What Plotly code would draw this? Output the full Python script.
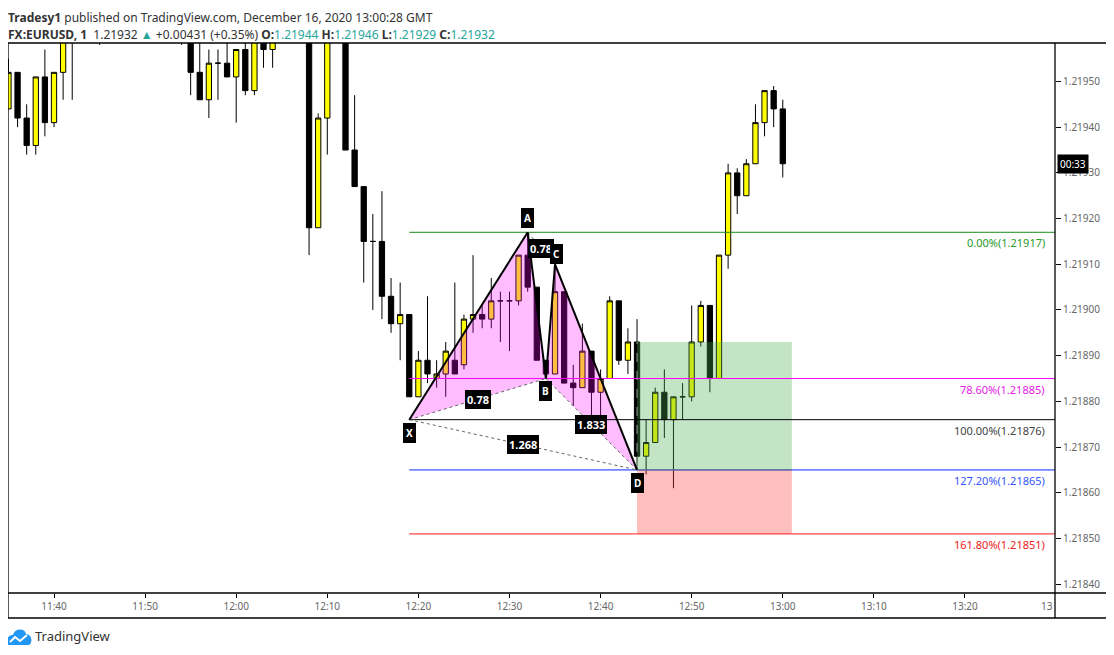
import datetime as dt
import plotly.graph_objects as go

DAY = "2020-12-16 "

# one-minute EURUSD candles (only those visible in the frame)
TIMES = ["11:35", "11:36", "11:37", "11:38", "11:39", "11:40", "11:41", "11:42", "11:45",
         "11:54", "11:55", "11:56", "11:57", "11:58", "11:59", "12:00", "12:01", "12:02",
         "12:03", "12:04", "12:08", "12:09", "12:10", "12:12", "12:13", "12:14", "12:15",
         "12:16", "12:17", "12:18", "12:19", "12:20", "12:21", "12:22", "12:23", "12:24",
         "12:25", "12:26", "12:27", "12:28", "12:29", "12:30", "12:31", "12:32", "12:33",
         "12:34", "12:35", "12:36", "12:37", "12:38", "12:39", "12:40", "12:41", "12:42",
         "12:43", "12:44", "12:45", "12:46", "12:47", "12:48", "12:49", "12:50", "12:51",
         "12:52", "12:53", "12:54", "12:55", "12:56", "12:57", "12:58", "12:59", "13:00"]
OPEN = [1.21944, 1.21952, 1.21942, 1.21936, 1.21951, 1.21941, 1.21952, 1.21965, 1.21966,
        1.21966, 1.21963, 1.21952, 1.21946, 1.21954, 1.21954, 1.21951, 1.21957, 1.21948,
        1.21961, 1.21957, 1.21962, 1.21918, 1.21942, 1.21961, 1.21935, 1.21927, 1.21915,
        1.21915, 1.21903, 1.21897, 1.21899, 1.21881, 1.21889, 1.21885, 1.21886, 1.21889,
        1.21888, 1.21898, 1.21899, 1.21898, 1.21902, 1.21902, 1.21902, 1.21912, 1.21905,
        1.21889, 1.21886, 1.21904, 1.21884, 1.21883, 1.21891, 1.21882, 1.21885, 1.21902,
        1.21889, 1.21893, 1.21868, 1.21871, 1.21882, 1.21876, 1.21881, 1.21881, 1.21893,
        1.21901, 1.21885, 1.21912, 1.21930, 1.21925, 1.21932, 1.21941, 1.21948, 1.21944]
HIGH = [1.21955, 1.21952, 1.21945, 1.21951, 1.21957, 1.21952, 1.21964, 1.21968, 1.21968,
        1.21968, 1.21965, 1.21960, 1.21957, 1.21957, 1.21960, 1.21957, 1.21960, 1.21963,
        1.21962, 1.21963, 1.21963, 1.21943, 1.21962, 1.21962, 1.21947, 1.21927, 1.21921,
        1.21926, 1.21907, 1.21906, 1.21899, 1.21891, 1.21903, 1.21889, 1.21893, 1.21906,
        1.21899, 1.21912, 1.21901, 1.21907, 1.21904, 1.21904, 1.21912, 1.21917, 1.21905,
        1.21889, 1.21910, 1.21904, 1.21888, 1.21897, 1.21891, 1.21887, 1.21903, 1.21902,
        1.21896, 1.21898, 1.21876, 1.21883, 1.21887, 1.21881, 1.21884, 1.21901, 1.21902,
        1.21901, 1.21912, 1.21932, 1.21931, 1.21933, 1.21945, 1.21948, 1.21949, 1.21946]
LOW = [1.21944, 1.21940, 1.21934, 1.21934, 1.21938, 1.21940, 1.21946, 1.21946, 1.21958,
       1.21958, 1.21947, 1.21946, 1.21942, 1.21946, 1.21951, 1.21941, 1.21947, 1.21947,
       1.21953, 1.21953, 1.21912, 1.21918, 1.21934, 1.21935, 1.21927, 1.21906, 1.21900,
       1.21898, 1.21895, 1.21889, 1.21881, 1.21881, 1.21884, 1.21883, 1.21881, 1.21886,
       1.21887, 1.21895, 1.21896, 1.21896, 1.21893, 1.21891, 1.21901, 1.21904, 1.21889,
       1.21885, 1.21886, 1.21884, 1.21879, 1.21883, 1.21874, 1.21874, 1.21885, 1.21888,
       1.21886, 1.21865, 1.21864, 1.21871, 1.21872, 1.21861, 1.21876, 1.21880, 1.21892,
       1.21882, 1.21885, 1.21909, 1.21921, 1.21925, 1.21932, 1.21938, 1.21940, 1.21929]
CLOSE = [1.21952, 1.21942, 1.21936, 1.21951, 1.21941, 1.21952, 1.21962, 1.21963, 1.21963,
         1.21964, 1.21952, 1.21946, 1.21954, 1.21954, 1.21951, 1.21957, 1.21948, 1.21962,
         1.21957, 1.21962, 1.21918, 1.21942, 1.21961, 1.21935, 1.21927, 1.21915, 1.21915,
         1.21903, 1.21897, 1.21899, 1.21881, 1.21889, 1.21886, 1.21886, 1.21891, 1.21886,
         1.21898, 1.21899, 1.21898, 1.21902, 1.21902, 1.21902, 1.21912, 1.21905, 1.21889,
         1.21886, 1.21904, 1.21884, 1.21883, 1.21891, 1.21882, 1.21885, 1.21902, 1.21889,
         1.21893, 1.21868, 1.21871, 1.21882, 1.21876, 1.21881, 1.21881, 1.21893, 1.21901,
         1.21885, 1.21912, 1.21930, 1.21925, 1.21932, 1.21941, 1.21948, 1.21944, 1.21932]

# XABCD pattern points
PAT_NAMES = ["X", "A", "B", "C", "D"]
PAT_TIMES = ["12:19", "12:32", "12:34", "12:35", "12:44"]
PAT_PRICES = [1.21876, 1.21917, 1.21885, 1.21910, 1.21865]
RATIOS = [("X", "B", "0.78"), ("A", "C", "0.78"), ("B", "D", "1.833"), ("X", "D", "1.268")]

# fibonacci levels
FIB_LEVELS = ["0.00%", "78.60%", "100.00%", "127.20%", "161.80%"]
FIB_PRICES = [1.21917, 1.21885, 1.21876, 1.21865, 1.21851]
FIB_LINE = ["#1a8a1a", "#ff00ff", "#000000", "#0a2cff", "#ff1a1a"]
FIB_TEXT = ["#2a9a2a", "#e619e6", "#444444", "#3355ff", "#f02020"]

# long position box
POS_START, POS_END = "12:44", "13:01"
POS_TARGET, POS_ENTRY, POS_STOP = 1.21893, 1.21865, 1.21851

X_RANGE = [DAY + "11:34:57", DAY + "13:29:53"]
Y_RANGE = [1.2183807, 1.2195842]

FONT = "Noto Sans"
# page body has an 8px margin, so the figure sits 8px in from the window corner
PAGE = 8
W, H = 1114 - PAGE, 655 - PAGE
L, T, PW, PH = 0, 35, 1047, 550


def px(x):
    return (x - PAGE - L) / PW


def py(y):
    return (T + PH - (y - PAGE)) / PH


def t(s):
    return DAY + s


def tp(s):
    return (DAY + s).replace(" ", "_")


fig = go.Figure()
fig.add_trace(go.Candlestick(
    x=[t(s) for s in TIMES], open=OPEN, high=HIGH, low=LOW, close=CLOSE,
    increasing=dict(fillcolor="#ffff00", line=dict(color="#000000", width=1)),
    decreasing=dict(fillcolor="#000000", line=dict(color="#000000", width=1)),
    whiskerwidth=0, hoverinfo="skip", showlegend=False,
))

pt = {n: (tm, p) for n, tm, p in zip(PAT_NAMES, PAT_TIMES, PAT_PRICES)}
shapes = []

# position boxes
shapes.append(dict(type="rect", xref="x", yref="y", x0=t(POS_START), x1=t(POS_END),
                   y0=POS_ENTRY, y1=POS_TARGET, fillcolor="rgba(76,175,80,0.33)",
                   line=dict(width=0), layer="above"))
shapes.append(dict(type="rect", xref="x", yref="y", x0=t(POS_START), x1=t(POS_END),
                   y0=POS_STOP, y1=POS_ENTRY, fillcolor="rgba(255,60,60,0.33)",
                   line=dict(width=0), layer="above"))

# pattern fills
for a, b, c in [("X", "A", "B"), ("B", "C", "D")]:
    path = "M{},{} L{},{} L{},{} Z".format(tp(pt[a][0]), pt[a][1], tp(pt[b][0]), pt[b][1],
                                          tp(pt[c][0]), pt[c][1])
    shapes.append(dict(type="path", xref="x", yref="y", path=path,
                       fillcolor="rgba(255,0,255,0.26)", line=dict(width=0), layer="above"))

# fib lines
for p, c in zip(FIB_PRICES, FIB_LINE):
    shapes.append(dict(type="line", xref="x", yref="y", x0=t(PAT_TIMES[0]), x1=X_RANGE[1],
                       y0=p, y1=p, line=dict(color=c, width=1), layer="above"))
shapes.append(dict(type="line", xref="x", yref="y", x0=t(POS_START), x1=t(POS_END),
                   y0=POS_ENTRY, y1=POS_ENTRY, line=dict(color="#777777", width=1), layer="above"))
shapes.append(dict(type="line", xref="x", yref="y", x0=t(POS_START), x1=t(POS_START),
                   y0=POS_ENTRY, y1=POS_TARGET,
                   line=dict(color="#9a9a9a", width=1, dash="dash"), layer="above"))

# dotted ratio lines
for a, b, _ in RATIOS:
    shapes.append(dict(type="line", xref="x", yref="y", x0=t(pt[a][0]), y0=pt[a][1],
                       x1=t(pt[b][0]), y1=pt[b][1],
                       line=dict(color="#666666", width=1, dash="dot"), layer="above"))

# pattern legs
for a, b in zip(PAT_NAMES[:-1], PAT_NAMES[1:]):
    shapes.append(dict(type="line", xref="x", yref="y", x0=t(pt[a][0]), y0=pt[a][1],
                       x1=t(pt[b][0]), y1=pt[b][1],
                       line=dict(color="#000000", width=2), layer="above"))

# chart frame, price-axis and time-axis separators
xr, yb = px(1108), py(618)
frame = [(0, 1, xr, 1), (0, 1, 0, yb), (xr, 1, xr, yb), (0, yb, xr, yb), (0, 0, xr, 0), (1, 1, 1, yb)]
for x0, y0, x1, y1 in frame:
    shapes.append(dict(type="line", xref="paper", yref="paper", x0=x0, y0=y0, x1=x1, y1=y1,
                       line=dict(color="#000000", width=1.3), layer="above"))


# TradingView logo
def logo_path(pts):
    out = []
    for cmd, coords in pts:
        out.append(cmd + " ".join("{:.5f},{:.5f}".format(px(a), py(b)) for a, b in coords))
    return " ".join(out)


cloud = logo_path([("M", [(8, 645)]), ("C", [(5, 640), (9, 634), (13, 635)]),
                   ("C", [(15, 628), (25, 628), (26, 634)]),
                   ("C", [(32, 634), (33, 643), (29, 645)]), ("Z", [])])
shapes.append(dict(type="path", xref="paper", yref="paper", path=cloud,
                   fillcolor="#2196f3", line=dict(width=0)))
zig = logo_path([("M", [(10, 642)]), ("L", [(15, 637)]), ("L", [(20, 641)]), ("L", [(27, 635)])])
shapes.append(dict(type="path", xref="paper", yref="paper", path=zig,
                   line=dict(color="#ffffff", width=2)))

annotations = []

# ratio labels at the middle of each dotted leg
for a, b, txt in RATIOS:
    t0 = dt.datetime.strptime(pt[a][0], "%H:%M")
    t1 = dt.datetime.strptime(pt[b][0], "%H:%M")
    mid = (t0 + (t1 - t0) / 2).strftime("%H:%M:%S")
    annotations.append(dict(x=t(mid), y=(pt[a][1] + pt[b][1]) / 2, xref="x", yref="y",
                            text="<b>" + txt + "</b>", showarrow=False, bgcolor="#000000",
                            bordercolor="#000000", borderpad=1,
                            font=dict(family=FONT, size=11, color="#ffffff")))

# point labels
offsets = {"X": (0, -13), "A": (0, 14), "B": (0, -12), "C": (1, 10), "D": (0, -13)}
for n in PAT_NAMES:
    dx, dy = offsets[n]
    annotations.append(dict(x=t(pt[n][0]), y=pt[n][1], xref="x", yref="y", xshift=dx, yshift=dy,
                            text="<b>" + n + "</b>", showarrow=False, bgcolor="#000000",
                            bordercolor="#000000", borderpad=2,
                            font=dict(family=FONT, size=10, color="#ffffff")))

# fib labels
for lvl, p, c in zip(FIB_LEVELS, FIB_PRICES, FIB_TEXT):
    annotations.append(dict(x=px(1047), y=p, xref="paper", yref="y", xanchor="right",
                            yanchor="top", yshift=-1, text="{}({:.5f})".format(lvl, p),
                            showarrow=False, font=dict(family=FONT, size=11, color=c)))

# last price countdown
annotations.append(dict(x=px(1057), y=CLOSE[-1], xref="paper", yref="y", xanchor="left",
                        yanchor="middle", text="00:33", showarrow=False, bgcolor="#000000",
                        borderpad=2, font=dict(family=FONT, size=10, color="#ffffff")))

# clipped 13:30 tick label
annotations.append(dict(x=px(1055), y=py(606), xref="paper", yref="paper", xanchor="right",
                        yanchor="middle", text="13", showarrow=False,
                        font=dict(family=FONT, size=10, color="#666666")))

# header
teal = "#26a69a"
annotations.append(dict(x=px(7), y=py(8), xref="paper", yref="paper", xanchor="left",
                        yanchor="top", borderpad=0,
                        text="<b>Tradesy1</b> published on TradingView.com, December 16, 2020 13:00:28 GMT",
                        showarrow=False, font=dict(family=FONT, size=12, color="#333333")))
line2 = ("<b>FX:EURUSD, 1</b>  1.21932 <span style='color:{0}'>▲</span> +0.00431 (+0.35%) "
         "<b>O:</b><span style='color:{0}'>1.21944</span> <b>H:</b><span style='color:{0}'>1.21946</span> "
         "<b>L:</b><span style='color:{0}'>1.21929</span> <b>C:</b><span style='color:{0}'>1.21932</span>"
         ).format(teal)
annotations.append(dict(x=px(7), y=py(34), xref="paper", yref="paper", xanchor="left",
                        yanchor="middle", borderpad=0, text=line2, showarrow=False,
                        font=dict(family=FONT, size=12, color="#333333")))
annotations.append(dict(x=px(33), y=py(636), xref="paper", yref="paper", xanchor="left",
                        yanchor="middle", text="TradingView", showarrow=False,
                        font=dict(family=FONT, size=13, color="#333333")))

fig.update_layout(
    width=W, height=H,
    margin=dict(l=L, r=W - L - PW, t=T, b=H - T - PH),
    paper_bgcolor="#ffffff", plot_bgcolor="#ffffff",
    boxgap=0.42, boxgroupgap=0,
    shapes=shapes, annotations=annotations,
    font=dict(family=FONT, size=10, color="#666666"),
    xaxis=dict(type="date", range=X_RANGE, rangeslider=dict(visible=False),
               showgrid=False, zeroline=False, showline=False,
               dtick=600000, tickformat="%H:%M", ticks="outside", ticklen=4,
               tickcolor="#000000", tickfont=dict(family=FONT, size=10, color="#666666")),
    yaxis=dict(range=Y_RANGE, side="right", showgrid=False, zeroline=False, showline=False,
               dtick=0.0001, tick0=1.2184, tickformat=".5f", ticks="outside", ticklen=5,
               tickcolor="#000000", tickfont=dict(family=FONT, size=10, color="#666666")),
)

fig.write_html("out.html")
